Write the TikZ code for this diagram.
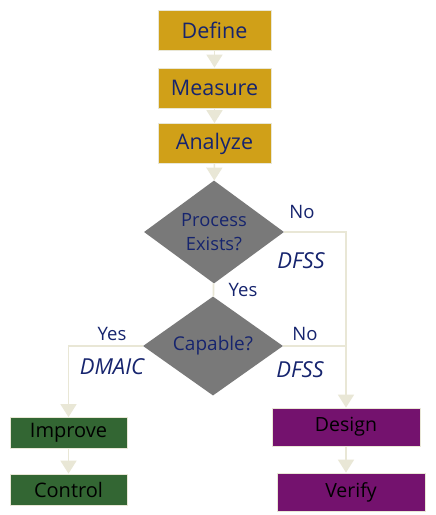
\documentclass[tikz,border=0pt]{standalone}
\usepackage{fontspec}
\setmainfont{Open Sans}
\usetikzlibrary{shapes.geometric,arrows.meta}
\definecolor{gold}{RGB}{208,160,24}
\definecolor{navy}{RGB}{22,36,110}
\definecolor{leaf}{RGB}{51,102,51}
\definecolor{plum}{RGB}{116,18,110}
\definecolor{cream}{RGB}{233,231,214}
\tikzset{
  stepbox/.style={rectangle, draw=cream, line width=0.8pt, minimum height=40pt, inner sep=0pt},
  dmabox/.style={stepbox, fill=gold, text=navy, minimum width=113pt, font=\fontsize{21.5}{24}\selectfont},
  dmaicbox/.style={stepbox, fill=leaf, text=black, minimum width=117pt, minimum height=31pt, font=\fontsize{20}{22}\selectfont},
  dfssbox/.style={stepbox, fill=plum, text=black, minimum width=148pt, minimum height=38pt, font=\fontsize{19.5}{22}\selectfont},
  decision/.style={diamond, fill=gray!95!black, text=navy, inner sep=0pt, align=center},
  flow/.style={draw=cream, line width=1.6pt, -{Triangle[width=16pt,length=13pt]}},
  link/.style={draw=cream, line width=1.6pt},
  answer/.style={text=navy, font=\fontsize{18.5}{20}\selectfont},
  track/.style={text=navy, font=\fontsize{22}{24}\selectfont\itshape}
}
\begin{document}
\begin{tikzpicture}[x=1pt, y=-1pt]
  \useasboundingbox[fill=white] (0,0) rectangle (436,515);
  % DMA part
  \node[dmabox] (define) at (214.5,30.5) {Define};
  \node[dmabox] (measure) at (214.5,88) {Measure};
  \node[dmabox] (analyze) at (214.5,143.5) {Analyze};
  % decisions
  \node[decision, minimum width=140pt, minimum height=98pt, font=\fontsize{18.3}{21}\selectfont] (exists) at (214,232) {Process\\[3pt]Exists?};
  \node[decision, minimum width=140pt, minimum height=92pt, font=\fontsize{19}{21}\selectfont] (capable) at (213,346) {Capable?};
  % DMAIC
  \node[dmaicbox] (improve) at (68.5,433) {Improve};
  \node[dmaicbox] (control) at (68.5,489.5) {Control};
  % DFSS
  \node[dfssbox] (design) at (346,427) {Design};
  \node[dfssbox] (verify) at (351,492) {Verify};
  % connectors
  \draw[flow] (define) -- (measure);
  \draw[flow] (measure) -- (analyze);
  \draw[flow] (analyze) -- (exists);
  \draw[link] (exists) -- (capable);
  \draw[flow] (exists.east) -| (design.north);
  \draw[link] (capable.east) -- (capable.east -| design.north);
  \draw[flow] (capable.west) -| (improve.north);
  \draw[flow] (improve) -- (control);
  \draw[flow] (design.south) -- (design.south |- verify.north);
  % labels
  \node[answer] (no1) at (302,212) {No};
  \node[track] (dfss1) at (301,261) {DFSS};
  \node[answer] (yes1) at (243,290) {Yes};
  \node[answer] (yes2) at (112,334) {Yes};
  \node[track] (dmaic) at (112,367) {DMAIC};
  \node[answer] (no2) at (305,334) {No};
  \node[track] (dfss2) at (300,370) {DFSS};
\end{tikzpicture}
\end{document}
